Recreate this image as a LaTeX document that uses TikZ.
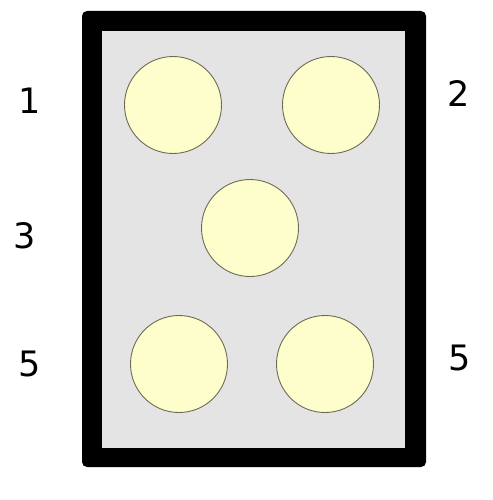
\documentclass[tikz,border=0pt]{standalone}
\usepackage{fontspec}
\setmainfont{DejaVu Sans}
\usetikzlibrary{positioning}
\definecolor{cellgray}{HTML}{E4E4E4}
\definecolor{dotfill}{HTML}{FDFECB}
\definecolor{dotline}{HTML}{6E6A55}
\tikzset{
    frame/.style={fill=black,rounded corners=5pt},
    cell/.style={fill=cellgray},
    dot/.style={circle,draw=dotline,fill=dotfill,line width=0.9pt,minimum size=97pt,inner sep=0pt},
    num/.style={font=\fontsize{35}{40}\selectfont,inner sep=0pt}
}

\begin{document}
\begin{tikzpicture}[x=1pt,y=-1pt]
    \useasboundingbox (0,0) rectangle (492,500);
                    \fill[frame] (82,11) rectangle (426,467);
                    \fill[cell] (102,31) rectangle (405,448);

                    \node[dot] (dot 1) at (173,105)  {};
                    \node[dot] (dot 2) at (331,105)  {};
                    \node[dot] (dot 3) at (250,228)  {};
                    \node[dot] (dot 4) at (179,364)  {};
                    \node[dot] (dot 5) at (325,364)  {};

                    \node[num] (num 1) at (30,101)   {1};
                    \node[num] (num 2) at (459,94)   {2};
                    \node[num] (num 3) at (25,236)   {3};
                    \node[num] (num 4) at (30,364)   {5};
                    \node[num] (num 5) at (460,358)  {5};
                \end{tikzpicture}
\end{document}
